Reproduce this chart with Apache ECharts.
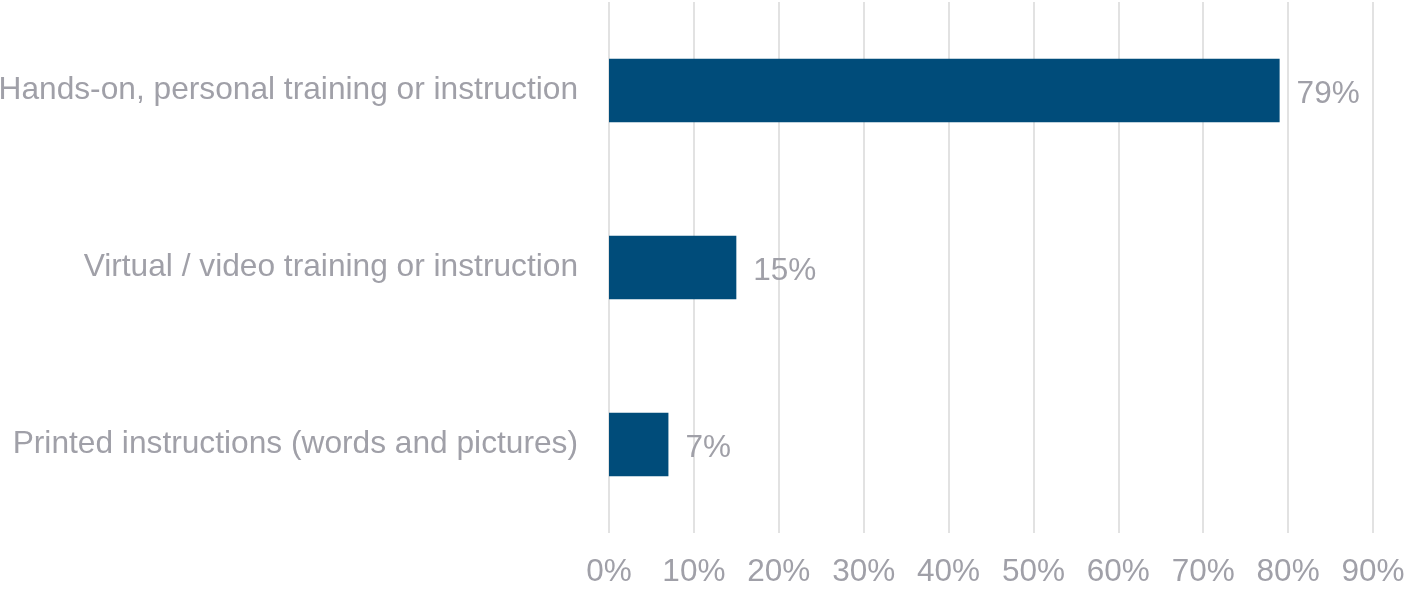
<!DOCTYPE html>
<html>
<head>
<meta charset="utf-8">
<script src="https://cdn.jsdelivr.net/npm/echarts@6/dist/echarts.min.js"></script>
<style>
  html, body { margin: 0; padding: 0; background: #ffffff; }
  #chart { width: 1409px; height: 589px; }
</style>
</head>
<body>
<div id="chart"></div>
<script>
// Preferred training formats, share of respondents (%)
const categories = [
  'Printed instructions (words and pictures)',
  'Virtual / video training or instruction',
  'Hands-on, personal training or instruction'
];
const shares = [7, 15, 79];

const textColor = '#a0a0a8';
const fontFamily = '"Liberation Sans", Arial, sans-serif';

const chart = echarts.init(document.getElementById('chart'));
chart.setOption({
  animation: false,
  grid: {
    left: 609, right: 36, top: 2, bottom: 56,
    containLabel: false,
    outerBoundsMode: 'none'
  },
  xAxis: {
    type: 'value',
    min: 0,
    max: 90,
    interval: 10,
    axisLine: { show: false },
    axisTick: { show: false },
    axisLabel: {
      color: textColor,
      fontSize: 31.5,
      fontFamily: fontFamily,
      margin: 23,
      formatter: '{value}%'
    },
    splitLine: { show: true, lineStyle: { color: '#e2e2e2', width: 2 } }
  },
  yAxis: {
    type: 'category',
    data: categories,
    axisLine: { show: false },
    axisTick: { show: false },
    axisLabel: {
      color: textColor,
      fontSize: 31.7,
      fontFamily: fontFamily,
      margin: 31
    }
  },
  series: [{
    type: 'bar',
    data: shares,
    barCategoryGap: '64%',
    itemStyle: { color: '#004c7a' },
    label: {
      show: true,
      position: 'right',
      distance: 17,
      offset: [0, 4],
      color: textColor,
      fontSize: 31.5,
      fontFamily: fontFamily,
      formatter: '{c}%'
    }
  }]
});
</script>
</body>
</html>
